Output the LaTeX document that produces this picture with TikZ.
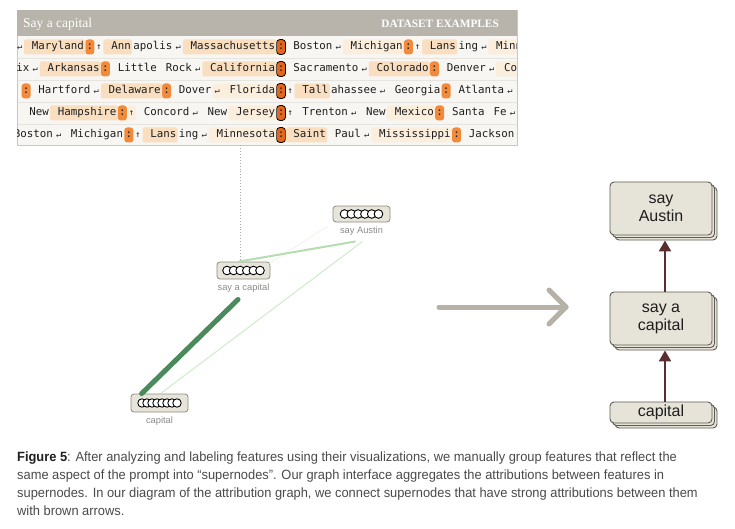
\documentclass[tikz,border=0pt]{standalone}
\usepackage{fontspec}
\usepackage{graphicx}
\setmainfont{Liberation Sans}
\newfontfamily\tokfont{DejaVu Sans Mono}
\newfontfamily\headfont{Liberation Serif}
\newfontfamily\capfont[FakeStretch=0.96]{Liberation Sans}
\usetikzlibrary{arrows.meta,shadows,positioning}

\definecolor{ink}{HTML}{1E1E1E}
\definecolor{panelgray}{HTML}{B8B4AB}
\definecolor{panelbg}{HTML}{F7F6F2}
\definecolor{panelrule}{HTML}{CAC7BF}
\definecolor{rowrule}{HTML}{E6E4DE}
\definecolor{peachlo}{HTML}{FCEEDD}
\definecolor{peachhi}{HTML}{F9DEC0}
\definecolor{colonorange}{HTML}{F28A3B}
\definecolor{keyorange}{HTML}{E4661C}
\definecolor{featfill}{HTML}{E7E4DA}
\definecolor{featline}{HTML}{8E8A7F}
\definecolor{labelgray}{HTML}{8A8A8A}
\definecolor{edgedark}{HTML}{4B8A5A}
\definecolor{edgemid}{HTML}{B5DDB0}
\definecolor{edgelight}{HTML}{CDEBC8}
\definecolor{flowgray}{HTML}{B6B2A8}
\definecolor{supfill}{HTML}{E6E3D9}
\definecolor{supline}{HTML}{5F5B52}
\definecolor{linkbrown}{HTML}{5A2E2E}
\definecolor{captext}{HTML}{4A4A4A}

\newcommand\toknl{\makebox[.602em]{\scalebox{.8}{↵}}}
\newcommand\tokup{\makebox[.602em]{\scalebox{.8}{↑}}}

% one line of dataset tokens, built out from the key colon in both directions
\newcommand\tokenrow[4]{%
  \node[tokkey,anchor=base,alias=#1R0] (#1L0) at (281,#2) {:};
  \foreach \kind/\word [count=\cur,remember=\cur as \prv (initially 0)] in {#3}
    \node[\kind,anchor=base east] (#1L\cur) at (#1L\prv.base west) {\word};
  \foreach \kind/\word [count=\cur,remember=\cur as \prv (initially 0)] in {#4}
    \node[\kind,anchor=base west] (#1R\cur) at (#1R\prv.base east) {\word};
}

\begin{document}
\begin{tikzpicture}[
  x=1pt,
  y=-1pt,
  tok/.style={font=\tokfont\fontsize{10.8}{12}\selectfont,text=ink,
    inner xsep=1.3pt,inner ysep=2.2pt,text height=8pt,text depth=2.6pt,
    outer sep=0pt,rounded corners=2pt},
  tokplain/.style={tok},
  toklo/.style={tok,fill=peachlo},
  tokhi/.style={tok,fill=peachhi},
  tokcolon/.style={tok,fill=colonorange,rounded corners=3pt},
  tokkey/.style={tok,fill=keyorange,draw=black,line width=.8pt,rounded corners=3.5pt},
  featbox/.style={draw=featline,fill=featfill,rounded corners=3pt,line width=.8pt,inner sep=0pt},
  featdot/.style={draw=black,fill=white,line width=.9pt},
  featlabel/.style={font=\fontsize{9.3}{10}\selectfont,text=labelgray,inner sep=0pt},
  supernode/.style={draw=supline,fill=supfill,rounded corners=4pt,line width=.9pt,
    align=center,font=\fontsize{16}{18}\selectfont,text=ink,minimum width=102pt,
    double copy shadow={shadow xshift=2.5pt,shadow yshift=-2.5pt}},
  link/.style={draw=linkbrown,line width=2.3pt,-{Triangle[length=11pt,width=12pt]}},
  flowline/.style={draw=flowgray,line width=5pt,line cap=round,line join=round},
  capline/.style={font=\capfont\fontsize{13.4}{18}\selectfont,text=captext,anchor=base west,inner sep=0pt}
]
\useasboundingbox (0,0) rectangle (735,529);

% dataset examples panel
\node[draw=panelrule,fill=panelbg,minimum width=500pt,minimum height=135pt,
  inner sep=0pt,anchor=north west] (panel) at (17,10) {};
\fill[panelgray] (panel.north west) rectangle ([yshift=-26pt]panel.north east);
\node[font=\headfont\fontsize{13.5}{14}\selectfont,text=white,anchor=base west,inner sep=0pt]
  (title) at (23,28) {Say a capital};
\node[font=\headfont\bfseries\fontsize{11.3}{12}\selectfont,text=white,anchor=base east,inner sep=0pt]
  (tag) at (499,28) {DATASET EXAMPLES};
\foreach \yy in {58,80,102,124}
  \draw[rowrule,line width=.6pt] (17.5,\yy) -- (516.5,\yy);

\begin{scope}
\clip (17.5,36) rectangle (516.5,144.5);
\tokenrow{r1}{49.7}
  {tokhi/\ Massachusetts,tokplain/\toknl,tokplain/apolis,tokhi/\ Ann,tokplain/\tokup,
   tokcolon/:,tokhi/\ Maryland,tokplain/\toknl}
  {tokplain/\ Boston,tokplain/\toknl,toklo/\ Michigan,tokcolon/:,tokplain/\tokup,
   tokhi/\ Lans,tokplain/ing,tokplain/\toknl,toklo/\ Minn}
\tokenrow{r2}{71.7}
  {tokhi/\ California,tokplain/\toknl,tokplain/\ Rock,tokplain/\ Little,tokcolon/:,
   tokhi/\ Arkansas,tokplain/\toknl,tokplain/ix}
  {tokplain/\ Sacramento,tokplain/\toknl,tokhi/\ Colorado,tokcolon/:,tokplain/\ Denver,
   tokplain/\toknl,toklo/\ Co}
\tokenrow{r3}{93.7}
  {toklo/\ Florida,toklo/\toknl,tokplain/\ Dover,tokcolon/:,tokhi/\ Delaware,
   tokplain/\toknl,tokplain/\ Hartford,tokcolon/:}
  {tokplain/\tokup,tokhi/\ Tall,tokplain/ahassee,tokplain/\toknl,tokplain/\ Georgia,
   tokcolon/:,tokplain/\ Atlanta,tokplain/\toknl}
\tokenrow{r4}{115.7}
  {toklo/\ Jersey,tokplain/\ New,tokplain/\toknl,tokplain/\ Concord,toklo/\tokup,
   tokcolon/:,tokhi/\ Hampshire,tokplain/\ New}
  {tokplain/\tokup,tokplain/\ Trenton,tokplain/\toknl,tokplain/\ New,toklo/\ Mexico,
   tokcolon/:,tokplain/\ Santa,tokplain/\ Fe,tokplain/\toknl}
\tokenrow{r5}{137.7}
  {toklo/\ Minnesota,tokplain/\toknl,tokplain/ing,tokhi/\ Lans,tokplain/\tokup,
   tokcolon/:,tokplain/\ Michigan,tokplain/\toknl,tokplain/Boston}
  {tokhi/\ Saint,tokplain/\ Paul,tokplain/\toknl,toklo/\ Mississippi,tokcolon/:,
   tokplain/\ Jackson}
\end{scope}

% attribution graph with feature groups
\node[featbox,minimum width=53pt,minimum height=17pt] (sac) at (243.5,270.5) {};
\node[featlabel,below=4pt of sac] (sacl) {say a capital};
\node[featbox,minimum width=57pt,minimum height=16pt] (sab) at (361.5,214) {};
\node[featlabel,below=4pt of sab] (sabl) {say Austin};
\node[featbox,minimum width=57pt,minimum height=18pt] (capb) at (159.5,403) {};
\node[featlabel,below=4pt of capb] (capl) {capital};

\draw[draw=gray!70,dotted,line width=.9pt]
  ([xshift=-3.5pt]sac.north |- panel.south) -- ([xshift=-3.5pt]sac.north);
\draw[edgelight!60,line width=.5pt]
  ([shift={(-3pt,-3pt)}]sac.north east) -- ([shift={(-5pt,-4pt)}]sab.south west);
\draw[edgelight,line width=1pt]
  ([xshift=1pt]capb.north) -- ([shift={(1pt,-6pt)}]sabl.south);
\draw[edgemid,line width=2pt]
  ([xshift=-5pt]sac.north) -- ([shift={(-6pt,-6pt)}]sabl.south);
\draw[edgedark,line width=5pt,line cap=round]
  ([shift={(-5.5pt,-7pt)}]sacl.south) -- ([xshift=11pt]capb.north west);

\foreach \k in {0,...,5}
  \draw[featdot] ([xshift={(\k-2.5)*6.6pt}]sac.center) circle (4.3pt);
\foreach \k in {0,...,5}
  \draw[featdot] ([xshift={(\k-2.5)*6.8pt}]sab.center) circle (4.3pt);
\foreach \k in {0,...,7}
  \draw[featdot] ([xshift={(\k-3.5)*5pt}]capb.center) circle (4.2pt);

% grouping arrow
\coordinate (flowstart) at (439,307);
\coordinate (flowend) at (566,307);
\draw[flowline] (flowstart) -- (flowend);
\draw[flowline] ([shift={(-17pt,17pt)}]flowend) -- (flowend) -- ([shift={(-17pt,-17pt)}]flowend);

% supernodes
\node[supernode,minimum height=53pt] (saus) at (661,208.5) {say\\Austin};
\node[supernode,minimum height=53pt] (scap) at (661,318.5) {say a\\capital};
\node[supernode,minimum height=21pt,inner ysep=1pt] (cap) at (661,412.5) {capital};
\draw[link] ([xshift=4pt]cap.north) -- ([shift={(4pt,-5pt)}]scap.south);
\draw[link] ([xshift=4pt]scap.north) -- ([shift={(4pt,-5pt)}]saus.south);

% caption
\node[capline] (cap1) at (17,461)
  {{\color{ink}\bfseries Figure 5}: After analyzing and labeling features using their visualizations, we manually group features that reflect the};
\node[capline] (cap2) at ([yshift=-18pt]cap1.base west)
  {same aspect of the prompt into “supernodes”. Our graph interface aggregates the attributions between features in};
\node[capline] (cap3) at ([yshift=-18pt]cap2.base west)
  {supernodes. In our diagram of the attribution graph, we connect supernodes that have strong attributions between them};
\node[capline] (cap4) at ([yshift=-18pt]cap3.base west)
  {with brown arrows.};
\end{tikzpicture}
\end{document}
